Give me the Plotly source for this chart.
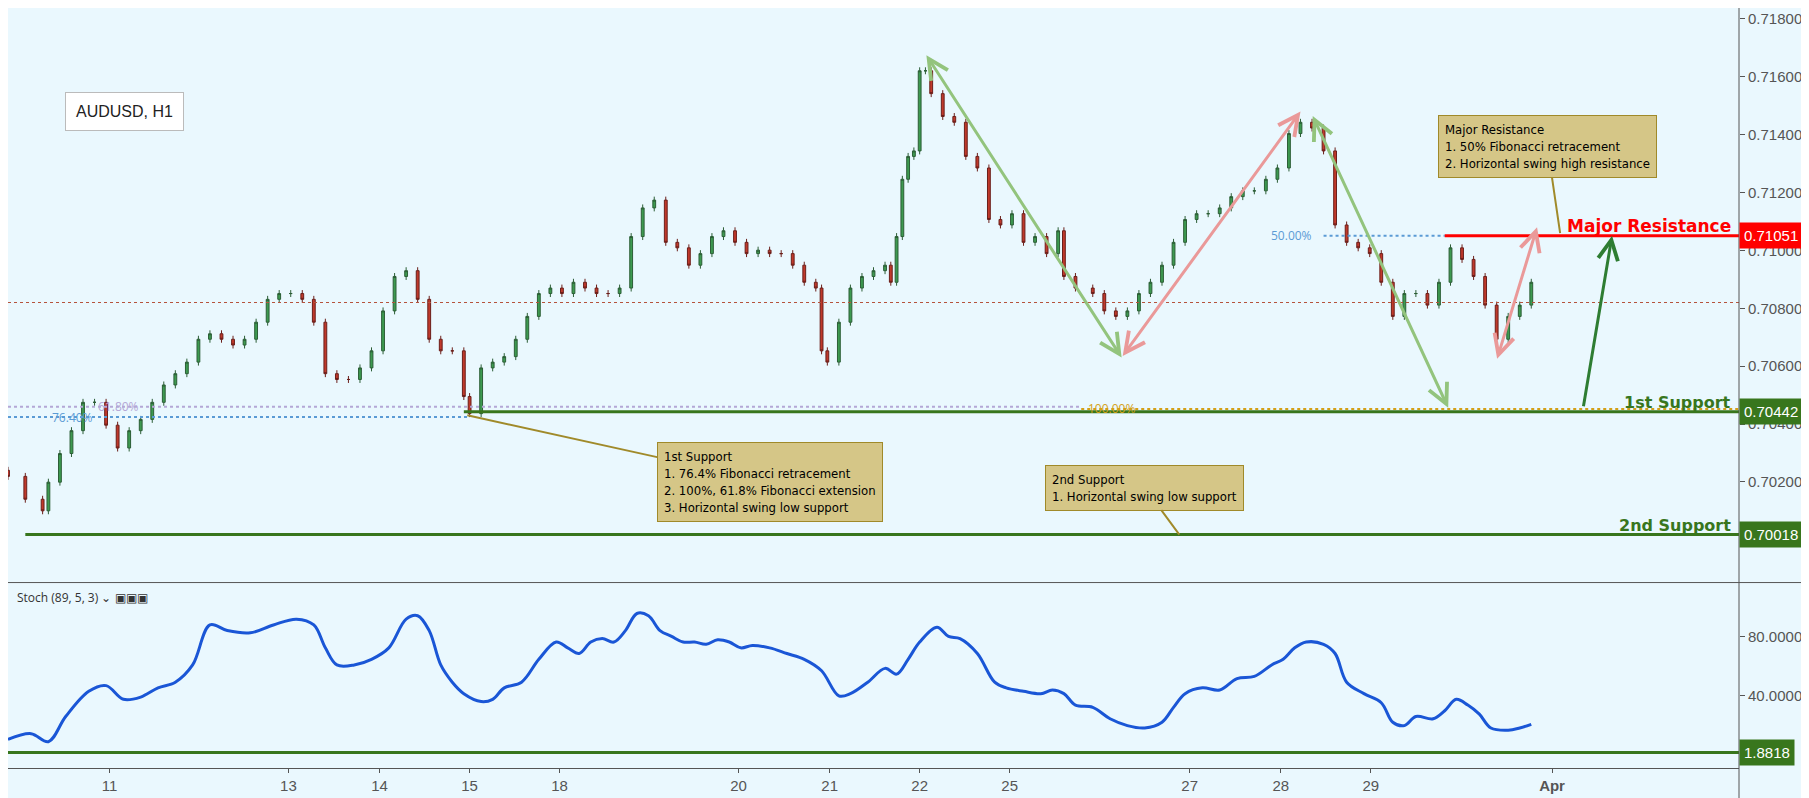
import plotly.graph_objects as go
from plotly.subplots import make_subplots

# time axis (chart units ~ hourly position), price closes
t = [0,15,30,35,45,55,65,75,85,95,105,115,125,135,145,155,165,175,185,195,205,215,225,235,245,255,265,275,285,295,305,315,325,335,345,355,365,375,385,395,400,
     410,420,430,440,450,460,470,480,490,500,510,520,530,540,550,560,570,580,590,600,610,620,630,640,650,660,670,680,690,700,705,710,720,730,740,750,760,765,770,775,780,785,790,795,800,
     810,820,830,840,850,860,870,880,890,900,910,915,925,940,950,960,970,980,990,1000,1010,1020,1030,1040,1050,1060,1070,1080,1090,1100,1110,1120,1130,1140,1150,1160,1170,1180,1190,1200,1210,1220,1230,1240,1250,1260,1270,1280,1290,1300,1310,1320]
close = [0.70219,0.70140,0.70100,0.70199,0.70298,0.70377,0.70475,0.70475,0.70396,0.70317,0.70377,0.70416,0.70475,0.70535,0.70574,0.70614,0.70693,0.70712,0.70693,0.70673,0.70693,0.70752,0.70831,0.70851,0.70851,0.70831,0.70752,0.70574,0.70554,0.70554,0.70594,0.70653,0.70791,0.70910,0.70930,0.70831,0.70693,0.70653,0.70653,0.70495,0.70436,
         0.70594,0.70614,0.70633,0.70693,0.70772,0.70851,0.70870,0.70851,0.70890,0.70870,0.70851,0.70851,0.70870,0.71048,0.71147,0.71174,0.71028,0.71009,0.70949,0.70989,0.71048,0.71068,0.71028,0.70989,0.71001,0.70989,0.70989,0.70949,0.70890,0.70870,0.70653,0.70614,0.70752,0.70870,0.70910,0.70930,0.70949,0.70890,0.71048,0.71246,0.71325,0.71344,0.71621,0.71621,0.71542,
         0.71463,0.71443,0.71325,0.71285,0.71107,0.71088,0.71127,0.71028,0.71048,0.70989,0.71068,0.70910,0.70870,0.70851,0.70791,0.70772,0.70791,0.70851,0.70890,0.70949,0.71028,0.71107,0.71127,0.71127,0.71147,0.71186,0.71206,0.71206,0.71246,0.71285,0.71404,0.71443,0.71423,0.71344,0.71088,0.71028,0.71009,0.70989,0.70890,0.70772,0.70851,0.70851,0.70811,0.70890,0.71009,0.70969,0.70910,0.70811,0.70693,0.70772,0.70811,0.70890]
first_open = 0.70240
wick = 0.00012

st_t = [0,20,35,50,70,85,100,115,130,145,160,175,190,210,230,250,265,275,285,300,315,330,345,355,365,375,385,395,410,420,430,445,460,475,485,495,505,515,525,535,545,555,565,575,585,595,605,615,625,635,645,660,675,690,705,720,730,745,760,770,780,790,805,815,825,840,855,865,880,895,905,915,925,940,955,970,985,1000,1010,1020,1035,1050,1065,1080,1095,1105,1115,1125,1140,1150,1160,1175,1190,1200,1210,1220,1235,1245,1255,1265,1275,1285,1300,1310,1320]
stoch = [10.7,14.6,9.2,26.1,43.1,46.9,37.7,39.2,45.4,49.2,60.8,87.7,83.9,82.4,87.7,91.6,87.7,72.3,60.8,60.8,64.6,72.3,91.6,93.9,83.9,60.8,49.2,41.5,36.2,37.7,45.4,49.2,64.6,76.2,72.3,68.5,76.2,78.5,76.2,83.9,95.4,93.9,83.9,80.0,76.2,76.2,74.7,77.7,76.2,72.3,73.9,72.3,68.5,64.6,56.9,40.0,41.5,49.2,58.5,54.6,64.6,76.2,86.2,80.0,78.5,68.5,49.2,45.4,43.1,41.5,43.9,41.5,33.8,32.3,24.6,20.0,18.4,22.3,32.3,41.5,45.4,43.9,51.6,53.1,60.8,64.6,72.3,76.2,74.7,68.5,49.2,41.5,35.4,22.3,20.0,26.1,24.6,30.0,37.7,33.8,27.7,18.4,16.9,18.4,20.8]

day_pos = [88,243,322,400,478,633,712,790,868,1024,1103,1181,1338]
day_lbl = ["11","13","14","15","18","20","21","22","25","27","28","29","<b>Apr</b>"]
price_ticks = [0.7020,0.7040,0.7060,0.7080,0.7100,0.7120,0.7140,0.7160,0.7180]

res, sup1, sup2, stoch_lvl, last_px = 0.71051, 0.70442, 0.70018, 1.8818, 0.70820
fib764, fib618, fib100 = 0.70424, 0.70460, 0.70452

opens = [first_open] + close[:-1]
highs = [max(o, c) + wick for o, c in zip(opens, close)]
lows = [min(o, c) - wick for o, c in zip(opens, close)]

BG = "#EAF8FE"
GREEN = "#38761d"
fig = make_subplots(rows=2, cols=1, shared_xaxes=True, row_heights=[0.756, 0.244], vertical_spacing=0)
fig.add_trace(go.Candlestick(x=t, open=opens, high=highs, low=lows, close=close,
                             increasing=dict(line=dict(color="#2c5e36", width=1), fillcolor="#3d9a50"),
                             decreasing=dict(line=dict(color="#6b1f1a", width=1), fillcolor="#c0392b"),
                             whiskerwidth=0, showlegend=False), row=1, col=1)
fig.add_trace(go.Scatter(x=st_t, y=stoch, mode="lines", line=dict(color="#1a56d6", width=3, shape="spline"),
                         showlegend=False), row=2, col=1)

def hline(y0, x0, x1, color, width, dash="solid", yref="y"):
    fig.add_shape(type="line", xref="x", yref=yref, x0=x0, x1=x1, y0=y0, y1=y0,
                  line=dict(color=color, width=width, dash=dash))

hline(last_px, 0, 1500, "#b5533c", 1, "dot")
hline(fib764, 0, 400, "#5b9bd5", 2, "dot")
hline(fib618, 0, 930, "#b4a7d6", 2, "dot")
hline(fib100, 930, 1500, "#d4a017", 2, "dot")
hline(sup1, 395, 1500, GREEN, 3)
hline(sup2, 15, 1500, GREEN, 3)
hline(res, 1140, 1245, "#5b9bd5", 2, "dot")
hline(res, 1245, 1500, "#ff0000", 3)
hline(stoch_lvl, 0, 1500, GREEN, 3, yref="y2")

def arrow(x0, y0, x1, y1, color, both=True, w=3):
    fig.add_annotation(x=x1, y=y1, ax=x0, ay=y0, xref="x", yref="y", axref="x", ayref="y",
                       showarrow=True, arrowhead=5, startarrowhead=5, arrowsize=1.3, startarrowsize=1.3,
                       arrowwidth=w, arrowcolor=color, arrowside="end+start" if both else "end", text="")

arrow(795, 0.71680, 965, 0.70630, "#93c47d")
arrow(965, 0.70630, 1120, 0.71480, "#ea9999")
arrow(1130, 0.71470, 1248, 0.70456, "#93c47d")
arrow(1290, 0.70620, 1325, 0.71080, "#ea9999")
arrow(1365, 0.70456, 1390, 0.71051, "#2e7d32", both=False)

def callout(x, y, tx, ty, text):
    fig.add_annotation(x=x, y=y, ax=tx, ay=ty, xref="x", yref="y", axref="x", ayref="y",
                       text=text, showarrow=True, arrowhead=0, arrowwidth=2, arrowcolor="#a08a2a",
                       bgcolor="#d5c687", bordercolor="#a08a2a", borderwidth=1, borderpad=6,
                       align="left", font=dict(family="DejaVu Sans Condensed, Liberation Sans Narrow", size=13, color="black"))

callout(398, 0.70430, 660, 0.70200, "1st Support<br>1. 76.4% Fibonacci retracement<br>2. 100%, 61.8% Fibonacci extension<br>3. Horizontal swing low support")
callout(1015, 0.70018, 985, 0.70180, "2nd Support<br>1. Horizontal swing low support")
callout(1345, 0.71060, 1334, 0.71360, "Major Resistance<br>1. 50% Fibonacci retracement<br>2. Horizontal swing high resistance")

def label(x, y, text, color, size=17, anchor="right", bold=True):
    fig.add_annotation(x=x, y=y, xref="x", yref="y", text=f"<b>{text}</b>" if bold else text, showarrow=False,
                       xanchor=anchor, yanchor="bottom", font=dict(size=size, color=color, family="DejaVu Sans"), yshift=-2)

label(1495, res, "Major Resistance", "#ff0000", 17)
label(1495, sup1, "1st Support", GREEN, 16)
label(1495, sup2, "2nd Support", GREEN, 16)
fig.add_annotation(x=75, y=fib764, xref="x", yref="y", text="76.40%", showarrow=False, xanchor="right", yanchor="middle", font=dict(size=12, color="#5b9bd5"))
fig.add_annotation(x=115, y=fib618, xref="x", yref="y", text="61.80%", showarrow=False, xanchor="right", yanchor="middle", font=dict(size=12, color="#b4a7d6"))
fig.add_annotation(x=978, y=fib100, xref="x", yref="y", text="100.00%", showarrow=False, xanchor="right", yanchor="middle", font=dict(size=12, color="#d4a017"))
fig.add_annotation(x=1132, y=res, xref="x", yref="y", text="50.00%", showarrow=False, xanchor="right", yanchor="middle", font=dict(size=12, color="#5b9bd5"))

def tag(y, text, color, yref="y"):
    fig.add_annotation(x=1.0, y=y, xref="paper", yref=yref, text=text, showarrow=False, xanchor="left",
                       bgcolor=color, font=dict(color="white", size=15, family="Liberation Sans"), borderpad=4)

tag(res, "0.71051", "#ff0000")
tag(sup1, "0.70442", GREEN)
tag(sup2, "0.70018", GREEN)
tag(stoch_lvl, "1.8818", GREEN, "y2")

fig.add_annotation(x=0.033, y=0.89, xref="paper", yref="paper", text="AUDUSD, H1", showarrow=False,
                   bgcolor="white", bordercolor="#bbbbbb", borderwidth=1, borderpad=10,
                   font=dict(size=16, color="#222", family="Liberation Sans"), xanchor="left")
fig.add_annotation(x=0.004, y=0.238, xref="paper", yref="paper", text="Stoch (89, 5, 3) ⌄ ▣▣▣", showarrow=False,
                   xanchor="left", yanchor="top", font=dict(size=12, color="#333"))

fig.add_shape(type="line", xref="paper", yref="paper", x0=0, x1=1.045, y0=0.244, y1=0.244, line=dict(color="#555", width=1))
fig.add_shape(type="line", xref="paper", yref="paper", x0=1, x1=1, y0=-0.04, y1=1, line=dict(color="#555", width=1))

axfont = dict(size=15, color="#555", family="Liberation Sans")
fig.update_xaxes(range=[0, 1500], showgrid=False, zeroline=False, showline=False, rangeslider_visible=False)
fig.update_xaxes(tickvals=day_pos, ticktext=day_lbl, ticks="outside", ticklen=4, tickcolor="#555",
                 tickfont=axfont, showline=True, linecolor="#555", row=2, col=1)
fig.update_yaxes(side="right", range=[0.69852, 0.71838], tickvals=price_ticks, tickformat=".5f",
                 showgrid=False, zeroline=False, ticks="outside", ticklen=5, tickcolor="#555", tickfont=axfont, row=1, col=1)
fig.update_yaxes(side="right", range=[-8.5, 116.2], tickvals=[40, 80], tickformat=".4f",
                 showgrid=False, zeroline=False, ticks="outside", ticklen=5, tickcolor="#555", tickfont=axfont, row=2, col=1)
fig.update_layout(width=1809, height=798, margin=dict(l=0, r=78, t=0, b=38),
                  paper_bgcolor=BG, plot_bgcolor=BG, xaxis_rangeslider_visible=False)
fig.write_html("out.html")
